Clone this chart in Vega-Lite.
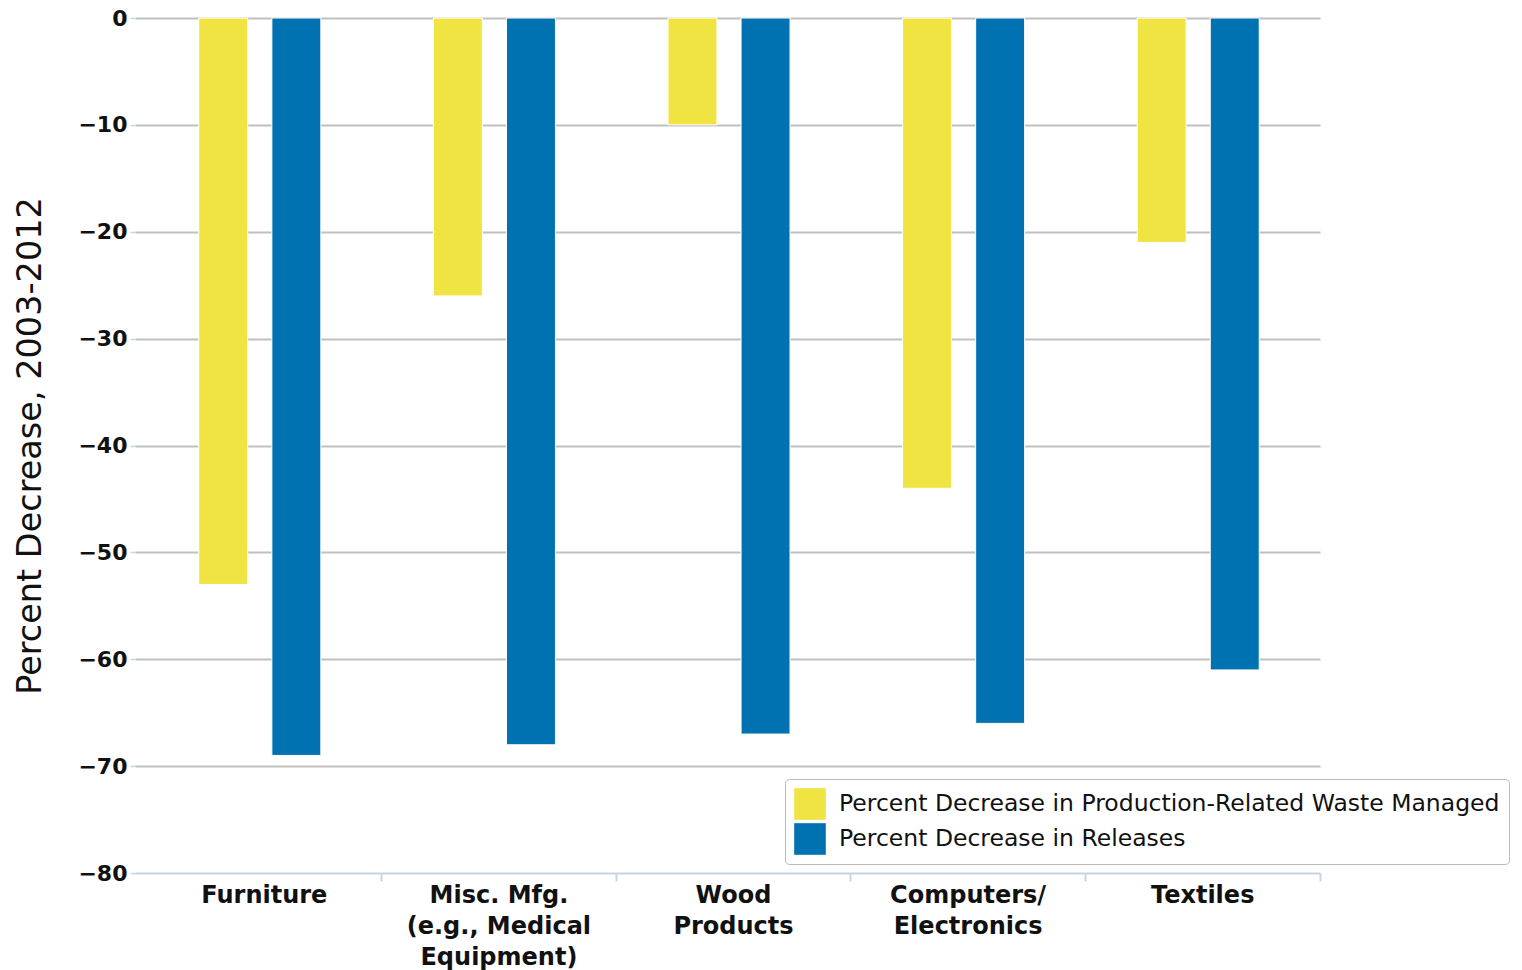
{
  "$schema": "https://vega.github.io/schema/vega-lite/v6.json",
  "width": 1185,
  "height": 855,
  "autosize": "none",
  "padding": {"left": 135, "top": 18, "right": 202, "bottom": 97},
  "background": "white",
  "config": {"view": {"stroke": null}},
  "data": {
    "values": [
      {"sector": "Furniture", "series": "Percent Decrease in Production-Related Waste Managed", "value": -53},
      {"sector": "Furniture", "series": "Percent Decrease in Releases", "value": -69},
      {"sector": "Misc. Mfg.|(e.g., Medical|Equipment)", "series": "Percent Decrease in Production-Related Waste Managed", "value": -26},
      {"sector": "Misc. Mfg.|(e.g., Medical|Equipment)", "series": "Percent Decrease in Releases", "value": -68},
      {"sector": "Wood|Products", "series": "Percent Decrease in Production-Related Waste Managed", "value": -10},
      {"sector": "Wood|Products", "series": "Percent Decrease in Releases", "value": -67},
      {"sector": "Computers/|Electronics", "series": "Percent Decrease in Production-Related Waste Managed", "value": -44},
      {"sector": "Computers/|Electronics", "series": "Percent Decrease in Releases", "value": -66},
      {"sector": "Textiles", "series": "Percent Decrease in Production-Related Waste Managed", "value": -21},
      {"sector": "Textiles", "series": "Percent Decrease in Releases", "value": -61}
    ]
  },
  "mark": {"type": "bar", "stroke": "white", "strokeWidth": 1},
  "encoding": {
    "x": {
      "field": "sector",
      "type": "nominal",
      "sort": null,
      "scale": {"paddingInner": 0, "paddingOuter": 0.0256, "align": 1},
      "axis": {
        "title": null,
        "labelAngle": 0,
        "labelExpr": "split(datum.label, '|')",
        "labelFont": "DejaVu Sans",
        "labelFontWeight": "bold",
        "labelFontSize": 24,
        "labelColor": "#111111",
        "labelLineHeight": 31,
        "labelPadding": 2,
        "labelLimit": 400,
        "labelBaseline": "top",
        "bandPosition": 1,
        "domain": false,
        "tickColor": "#c8d4e4",
        "tickWidth": 2,
        "tickSize": 8,
        "grid": false
      }
    },
    "xOffset": {
      "field": "series",
      "type": "nominal",
      "sort": ["Percent Decrease in Production-Related Waste Managed", "Percent Decrease in Releases"],
      "scale": {"paddingInner": 0.33, "paddingOuter": 0.77, "align": 0.46}
    },
    "y": {
      "field": "value",
      "type": "quantitative",
      "scale": {"domain": [-80, 0], "nice": false},
      "axis": {
        "title": "Percent Decrease, 2003-2012",
        "titleFont": "DejaVu Sans",
        "titleFontSize": 33.5,
        "titleFontWeight": "normal",
        "titleColor": "#111111",
        "titlePadding": 30,
        "values": [0, -10, -20, -30, -40, -50, -60, -70, -80],
        "labelFont": "DejaVu Sans",
        "labelFontWeight": "bold",
        "labelFontSize": 22,
        "labelColor": "#111111",
        "labelPadding": 3,
        "domain": false,
        "tickColor": "#c8d4e4",
        "tickSize": 5,
        "tickWidth": 1.5,
        "grid": true,
        "gridColor": {"condition": {"test": "datum.value == -80", "value": "#c8d4e4"}, "value": "#c0c0c0"},
        "gridWidth": 2
      }
    },
    "color": {
      "field": "series",
      "type": "nominal",
      "scale": {
        "domain": ["Percent Decrease in Production-Related Waste Managed", "Percent Decrease in Releases"],
        "range": ["#F0E442", "#0072B2"]
      },
      "legend": {
        "title": null,
        "orient": "none",
        "legendX": 650,
        "legendY": 761,
        "symbolType": "square",
        "symbolSize": 1000,
        "symbolStrokeWidth": 0,
        "symbolOpacity": 1,
        "labelFont": "DejaVu Sans",
        "labelFontSize": 23.5,
        "labelColor": "#111111",
        "labelOffset": 13,
        "labelLimit": 800,
        "rowPadding": 3,
        "padding": 9,
        "strokeColor": "#bbbbbb",
        "cornerRadius": 4,
        "fillColor": "white"
      }
    }
  }
}
